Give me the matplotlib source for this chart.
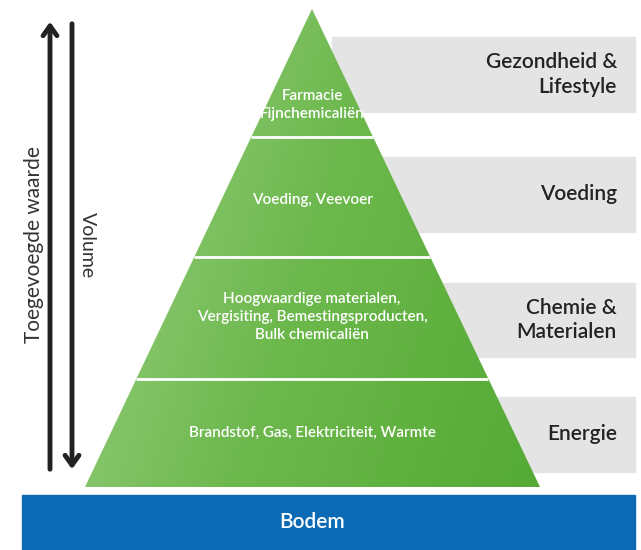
import matplotlib
matplotlib.use("Agg")
import matplotlib.pyplot as plt
import numpy as np
from matplotlib.colors import LinearSegmentedColormap
from matplotlib.patches import Polygon, Rectangle, FancyArrowPatch

plt.rcParams["font.family"] = ["Lato", "DejaVu Sans"]

# pyramid content, top to bottom
level_texts = [
    "Farmacie\nFijnchemicaliën",
    "Voeding, Veevoer",
    "Hoogwaardige materialen,\nVergisiting, Bemestingsproducten,\nBulk chemicaliën",
    "Brandstof, Gas, Elektriciteit, Warmte",
]
sector_labels = ["Gezondheid &\nLifestyle", "Voeding", "Chemie &\nMaterialen", "Energie"]
base_label = "Bodem"
value_label = "Toegevoegde waarde"
volume_label = "Volume"

# layout (pixel coordinates)
W, H = 641, 550
apex = (312, 9)
base_y, base_l, base_r = 487, 85, 540
layer_bounds = [9, 137, 257, 379, 487]
text_y = [105, 200, 317, 433]
band_rows = [(37, 112), (157, 232), (283, 357), (397, 472)]

fig = plt.figure(figsize=(W / 100, H / 100), dpi=100)
ax = fig.add_axes([0, 0, 1, 1])
ax.set_xlim(0, W)
ax.set_ylim(H, 0)
ax.axis("off")

# grey sector bands
for (y0, y1), lab in zip(band_rows, sector_labels):
    ax.add_patch(Rectangle((332, y0), 635 - 332, y1 - y0, color="#e4e4e4", zorder=1))
    ax.text(617, (y0 + y1) / 2, lab, ha="right", va="center", fontsize=15,
            fontweight="semibold", color="#222222", linespacing=1.3, zorder=5)

# green pyramid with gradient
pyr = Polygon([apex, (base_r, base_y), (base_l, base_y)], closed=True,
              facecolor="none", edgecolor="none", joinstyle="round")
ax.add_patch(pyr)
gx, gy = np.meshgrid(np.linspace(0, 1, 200), np.linspace(0, 1, 200))
grad = 0.75 * gx + 0.25 * gy
cmap = LinearSegmentedColormap.from_list("g", ["#9dd086", "#6cb84c", "#55aa35"])
im = ax.imshow(grad, cmap=cmap, extent=(base_l, base_r, base_y, apex[1]),
               origin="upper", zorder=2, aspect="auto")
im.set_clip_path(pyr)


def half_width(y):
    return (y - apex[1]) / (base_y - apex[1])


for y in layer_bounds[1:-1]:
    f = half_width(y)
    xl = apex[0] + f * (base_l - apex[0])
    xr = apex[0] + f * (base_r - apex[0])
    ax.plot([xl, xr], [y, y], color="white", lw=2, zorder=3, solid_capstyle="butt")

for y, txt in zip(text_y, level_texts):
    ax.text(apex[0], y, txt, ha="center", va="center", fontsize=11,
            fontweight="semibold", color="white", linespacing=1.35, zorder=4)

# base band
ax.add_patch(Rectangle((22, 495), 635 - 22, H - 495, color="#0a6bb4", zorder=1))
ax.text(apex[0], 522, base_label, ha="center", va="center", fontsize=15,
        fontweight="semibold", color="white", zorder=4)

# arrows
up = FancyArrowPatch((50, 472), (50, 19), arrowstyle="->,head_length=7,head_width=5",
                     lw=3.5, color="#222222", mutation_scale=1, zorder=4)
down = FancyArrowPatch((72, 21), (72, 472), arrowstyle="->,head_length=7,head_width=5",
                       lw=3.5, color="#222222", mutation_scale=1, zorder=4)
ax.add_patch(up)
ax.add_patch(down)
ax.text(34, 245, value_label, rotation=90, ha="center", va="center",
        fontsize=15, color="#333333")
ax.text(87, 245, volume_label, rotation=-90, ha="center", va="center",
        fontsize=14, color="#333333")

fig.savefig("out.png", dpi=100)
